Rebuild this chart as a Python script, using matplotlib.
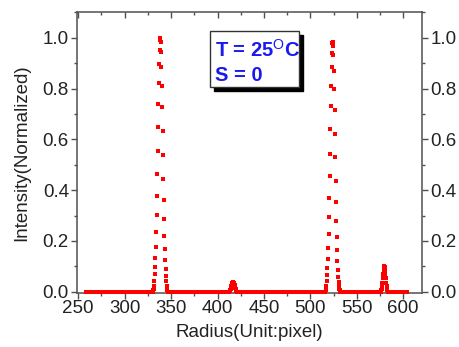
import numpy as np
import matplotlib
matplotlib.use("Agg")
import matplotlib.pyplot as plt
from matplotlib.patches import Rectangle
from matplotlib.ticker import MultipleLocator

plt.rcParams['font.family'] = ['Liberation Sans', 'DejaVu Sans']
plt.rcParams['mathtext.fontset'] = 'custom'
plt.rcParams['mathtext.rm'] = 'Liberation Sans'
plt.rcParams['mathtext.bf'] = 'Liberation Sans:bold'

# radial profile, sampled every 0.4 pixel; baseline reads as 0
step = 0.4
r_start, r_end = 258.0, 604.0

# peaks: (first sample radius, intensities)
peak1_start = 330.9
peak1 = [0.005, 0.012, 0.024, 0.043, 0.070, 0.098, 0.134, 0.178, 0.234, 0.302,
         0.378, 0.463, 0.553, 0.650, 0.741, 0.824, 0.897, 0.953, 0.990, 1.000,
         0.982, 0.946, 0.884, 0.810, 0.726, 0.632, 0.540, 0.446, 0.360, 0.287,
         0.220, 0.168, 0.127, 0.090, 0.062, 0.041, 0.023, 0.012, 0.005]

peak2_start = 516.6
peak2 = [0.005, 0.012, 0.022, 0.041, 0.067, 0.093, 0.129, 0.171, 0.227, 0.293,
         0.369, 0.454, 0.543, 0.640, 0.730, 0.812, 0.885, 0.940, 0.979, 0.985,
         0.969, 0.933, 0.871, 0.798, 0.714, 0.621, 0.530, 0.437, 0.352, 0.280,
         0.214, 0.163, 0.123, 0.087, 0.060, 0.040, 0.022, 0.012, 0.005]

peak3_start = 413.4
peak3 = [0.003, 0.006, 0.010, 0.015, 0.021, 0.027, 0.032, 0.036, 0.039, 0.040,
         0.039, 0.036, 0.032, 0.027, 0.021, 0.015, 0.010, 0.006, 0.003]

peak4_start = 576.2
peak4 = [0.005, 0.012, 0.022, 0.036, 0.053, 0.070, 0.085, 0.096, 0.100,
         0.096, 0.085, 0.070, 0.053, 0.036, 0.022, 0.012, 0.005]

radius = np.arange(r_start, r_end + step / 2, step)
intensity = np.zeros_like(radius)
for start, vals in [(peak1_start, peak1), (peak2_start, peak2),
                    (peak3_start, peak3), (peak4_start, peak4)]:
    i0 = int(round((start - r_start) / step))
    intensity[i0:i0 + len(vals)] = vals

fig = plt.figure(figsize=(4.6, 3.47), dpi=100)
ax = fig.add_axes([0.168, 0.157, 0.749, 0.807])

ax.plot(radius, intensity, linestyle='none', marker='s', markersize=2.2,
        markeredgewidth=0, color='#ff0000', zorder=3, clip_on=False)

ax.set_xlim(249, 620)
ax.set_ylim(-0.003, 1.1)
ax.xaxis.set_major_locator(MultipleLocator(50))
ax.xaxis.set_minor_locator(MultipleLocator(25))
ax.yaxis.set_major_locator(MultipleLocator(0.2))
ax.yaxis.set_minor_locator(MultipleLocator(0.1))
ax.yaxis.set_major_formatter(plt.FormatStrFormatter('%.1f'))

for s in ax.spines.values():
    s.set_color('#505050')
    s.set_linewidth(1.1)

ax.tick_params(which='both', direction='out', colors='#505050', labelcolor='#222222',
               labelsize=13.5, right=True, labelright=True)
ax.tick_params(which='major', length=4.5, width=1.0, pad=1.5)
ax.tick_params(which='minor', length=2.5, width=1.0)
ax.tick_params(axis='x', which='both', top=True)
ax.tick_params(axis='x', which='major', pad=1)

# top ticks point inward
for t in ax.xaxis.get_major_ticks() + ax.xaxis.get_minor_ticks():
    t.tick2line.set_marker(3)

ax.set_xlabel('Radius(Unit:pixel)', fontsize=13.5, color='#222222', labelpad=5)
ax.set_ylabel('Intensity(Normalized)', fontsize=13.5, color='#222222', labelpad=9)

# label box with drop shadow
bx, by, bw, bh = 0.385, 0.734, 0.259, 0.200
ax.add_patch(Rectangle((bx + 0.012, by - 0.015), bw, bh, transform=ax.transAxes,
                       facecolor='black', edgecolor='black', zorder=4))
ax.add_patch(Rectangle((bx, by), bw, bh, transform=ax.transAxes,
                       facecolor='white', edgecolor='#333333', linewidth=1.0, zorder=5))
ax.text(0.40, 0.866, r'T = 25$^\mathrm{O}$C', transform=ax.transAxes, fontsize=14.5,
        fontweight='bold', color='#1a1aee', va='center', ha='left', zorder=6)
ax.text(0.40, 0.775, 'S = 0', transform=ax.transAxes, fontsize=14.5,
        fontweight='bold', color='#1a1aee', va='center', ha='left', zorder=6)

fig.savefig('out.png', dpi=100)
